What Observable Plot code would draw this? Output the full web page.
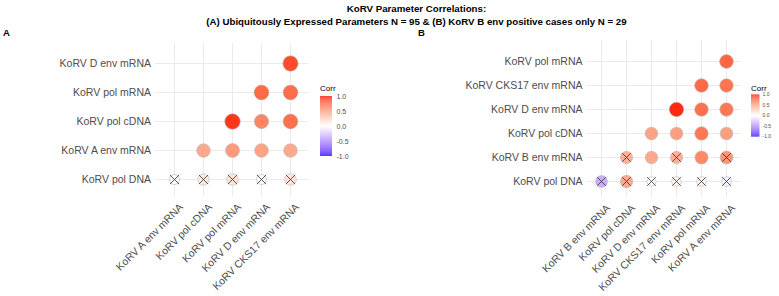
<!DOCTYPE html>
<html><head><meta charset="utf-8">
<script src="https://cdn.jsdelivr.net/npm/d3@7"></script>
<script src="https://cdn.jsdelivr.net/npm/@observablehq/plot@0.6"></script>
<style>
body{margin:0;background:#fff;font-family:"Liberation Sans",Arial,sans-serif;}
#wrap{position:relative;width:779px;height:296px;overflow:hidden;background:#fff;}
.abs{position:absolute;}
.title{position:absolute;left:27px;width:779px;text-align:center;font-weight:bold;font-size:9.7px;line-height:12px;color:#000;white-space:nowrap;}
.tag{position:absolute;font-weight:bold;font-size:9.5px;line-height:10px;color:#000;}
.corr{position:absolute;font-size:8px;line-height:9px;color:#000;}
</style></head><body>
<div id="wrap">
  <div id="pA" class="abs" style="left:0;top:0"></div>
  <div id="pB" class="abs" style="left:390px;top:0"></div>
  <div class="title" style="top:3px">KoRV Parameter Correlations:</div>
  <div class="title" style="top:16px">(A) Ubiquitously Expressed Parameters N = 95 &amp; (B) KoRV B env positive cases only N = 29</div>
  <div class="tag" style="left:3px;top:28px">A</div>
  <div class="tag" style="left:418px;top:28px">B</div>
  <div class="corr" style="left:320px;top:84px">Corr</div>
  <div class="corr" style="left:751px;top:84px">Corr</div>
  <div id="lA" class="abs" style="left:320px;top:91px"></div>
  <div id="lB" class="abs" style="left:751px;top:91px"></div>
</div>
<script>
// Panel A
const colsA = ["KoRV A env mRNA","KoRV pol cDNA","KoRV pol mRNA","KoRV D env mRNA","KoRV CKS17 env mRNA"];
const rowsA = ["KoRV pol DNA","KoRV A env mRNA","KoRV pol cDNA","KoRV pol mRNA","KoRV D env mRNA"]; // bottom to top
const corrA = [
  [-0.03, 0.12, 0.15, 0.02, 0.15],
  [0.45, 0.52, 0.48, 0.45],
  [0.92, 0.62, 0.72],
  [0.74, 0.73],
  [0.86]
];
const insigA = [
  [1,1,1,1,1],
  [0,0,0,0],
  [0,0,0],
  [0,0],
  [0]
];
// Panel B
const colsB = ["KoRV B env mRNA","KoRV pol cDNA","KoRV D env mRNA","KoRV CKS17 env mRNA","KoRV pol mRNA","KoRV A env mRNA"];
const rowsB = ["KoRV pol DNA","KoRV B env mRNA","KoRV pol cDNA","KoRV D env mRNA","KoRV CKS17 env mRNA","KoRV pol mRNA"]; // bottom to top
const corrB = [
  [-0.35, 0.45, 0.03, 0.05, 0.05, -0.06],
  [0.42, 0.45, 0.42, 0.6, 0.55],
  [0.48, 0.5, 0.68, 0.5],
  [0.95, 0.72, 0.68],
  [0.75, 0.7],
  [0.76]
];
const insigB = [
  [1,1,1,1,1,1],
  [1,0,1,0,1],
  [0,0,0,0],
  [0,0,0],
  [0,0],
  [0]
];
const legendTicks = [-1, -0.5, 0, 0.5, 1];

const colorScale = {type:"linear", domain:[-1,0,1], range:["blue","white","red"], interpolate:"lab"};
const font = "Liberation Sans, Arial, sans-serif";

function panel(cols, rows, corr, insig, o) {
  const data = [];
  rows.forEach((r, i) => corr[i].forEach((v, k) => data.push({x: cols[i + k], y: r, v, ns: insig[i][k]})));
  return Plot.plot({
    width: o.width, height: 296,
    marginTop: o.mt, marginBottom: o.mb, marginLeft: o.ml, marginRight: o.mr,
    style: {fontFamily: font, fontSize: "10.5px", color: "#4d4d4d", background: "transparent", overflow: "visible"},
    x: {type: "point", domain: cols, padding: 0, insetLeft: o.il, insetRight: o.ir, axis: null},
    y: {type: "point", domain: rows.slice().reverse(), padding: 0, insetTop: o.it, insetBottom: o.ib, tickSize: 0, label: null, tickPadding: 4},
    color: colorScale,
    r: {type: "sqrt", domain: [0, 1], range: o.rr},
    marks: [
      Plot.ruleX(cols, {x: d => d, stroke: "#ebebeb", strokeWidth: 1}),
      Plot.ruleY(rows, {y: d => d, stroke: "#ebebeb", strokeWidth: 1}),
      Plot.dot(data, {x: "x", y: "y", r: d => Math.abs(d.v), fill: "v", stroke: "#b5b5b5", strokeWidth: 0.6}),
      Plot.dot(data.filter(d => d.ns), {x: "x", y: "y", symbol: "times", r: o.xr, stroke: "#333", strokeWidth: 0.8}),
      Plot.text(cols, {x: d => d, text: d => d, frameAnchor: "bottom", rotate: -45, textAnchor: "end", lineAnchor: "top",
        dx: 4, dy: 6, fill: "#4d4d4d", fontSize: 10.5})
    ]
  });
}

function legend() {
  const steps = d3.range(-1, 1, 0.02);
  return Plot.plot({
    width: 40, height: 70, marginTop: 5, marginBottom: 5, marginLeft: 0, marginRight: 28,
    style: {fontFamily: font, fontSize: "7px", color: "#4d4d4d", background: "transparent", overflow: "visible"},
    x: {domain: [0, 1], axis: null},
    y: {domain: [-1, 1], axis: "right", ticks: legendTicks, tickFormat: d => d.toFixed(1), tickSize: 0, tickPadding: 4, label: null},
    color: colorScale,
    marks: [
      Plot.rect(steps, {x1: 0, x2: 1, y1: d => d, y2: d => d + 0.021, fill: d => d + 0.01})
    ]
  });
}

document.getElementById("pA").append(panel(colsA, rowsA, corrA, insigA,
  {width: 390, mt: 43, mb: 100, ml: 154.5, mr: 81.5, il: 17.5, ir: 17.5, it: 18.7, ib: 16, rr: [4.5, 7.9], xr: 4.3}));
document.getElementById("pB").append(panel(colsB, rowsB, corrB, insigB,
  {width: 389, mt: 40, mb: 99, ml: 196, mr: 38, il: 14.7, ir: 15, it: 18.3, ib: 14, rr: [4, 7.3], xr: 4}));
document.getElementById("lA").append(legend());
document.getElementById("lB").append(legend());
</script>
</body></html>
